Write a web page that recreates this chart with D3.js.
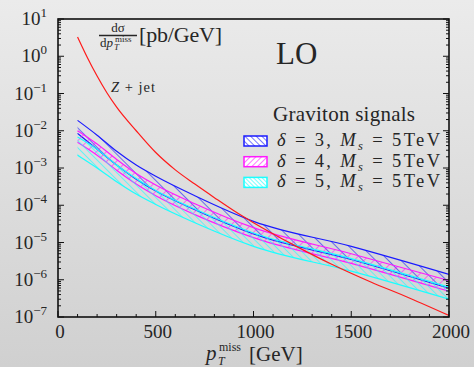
<!DOCTYPE html>
<html>
<head>
<meta charset="utf-8">
<script src="https://cdn.jsdelivr.net/npm/d3@7"></script>
<style>
  body { margin: 0; padding: 0; }
  svg { display: block; }
  text { font-family: "Liberation Serif", "DejaVu Serif", serif; fill: #262626; }
</style>
</head>
<body>
<div class="chart"></div>
<script>

// Z + jet background
var zjetX = [100, 150, 200, 250, 300, 400, 500, 600, 700, 800, 900, 1000, 1200, 1400, 1600, 1800, 2000]
var zjetY = [3.3, 0.93, 0.295, 0.105, 0.043, 0.010, 2.6e-3, 8.9e-4, 3.7e-4, 1.6e-4, 7.1e-5, 3.4e-5, 8.9e-6, 2.6e-6, 8.7e-7, 3.2e-7, 1.1e-7]

// graviton signal bands (upper / lower edge)
var sigX = [100, 200, 300, 400, 500, 700, 1000, 1500, 2000]
var d3Upper = [1.9e-2, 7.6e-3, 2.8e-3, 1.2e-3, 6.0e-4, 1.8e-4, 3.7e-5, 7.9e-6, 1.4e-6]
var d3Lower = [8.5e-3, 3.2e-3, 1.2e-3, 5.0e-4, 2.4e-4, 7.6e-5, 1.7e-5, 3.5e-6, 5.9e-7]
var d4Upper = [1.0e-2, 4.4e-3, 1.7e-3, 7.1e-4, 3.5e-4, 1.1e-4, 2.5e-5, 5.0e-6, 9.5e-7]
var d4Lower = [4.9e-3, 2.2e-3, 8.7e-4, 3.7e-4, 1.8e-4, 5.6e-5, 1.35e-5, 2.75e-6, 4.9e-7]
var d5Upper = [6.8e-3, 3.2e-3, 1.2e-3, 5.2e-4, 2.5e-4, 7.9e-5, 1.8e-5, 3.7e-6, 6.3e-7]
var d5Lower = [2.2e-3, 1.0e-3, 4.3e-4, 2.0e-4, 1.05e-4, 3.4e-5, 7.9e-6, 1.7e-6, 3.0e-7]

var deltas = ["3", "4", "5"]
var bandColors = ["#1a1aff", "#ff1aff", "#1affff"]

var xTicks = [0, 500, 1000, 1500, 2000]
var yExponents = [1, 0, -1, -2, -3, -4, -5, -6, -7]

const W = 474, H = 367
const margin = ({top: 19, right: 25, bottom: 50, left: 58})
const width = W - margin.left - margin.right
const height = H - margin.top - margin.bottom

var svg = d3.select('.chart')
    .append("svg")
    .attr("width", W)
    .attr("height", H)

var defs = svg.append("defs")

var grad = defs.append("linearGradient")
    .attr("id", "bg")
    .attr("x1", 0).attr("y1", 0)
    .attr("x2", 0).attr("y2", 1)
grad.append("stop").attr("offset", "0%").attr("stop-color", "#ebebeb")
grad.append("stop").attr("offset", "100%").attr("stop-color", "#d0d0d0")

svg.append("rect")
    .attr("width", W)
    .attr("height", H)
    .attr("fill", "url(#bg)")

// hatch patterns
function hatch(id, color, spacing, angle) {
    var p = defs.append("pattern")
        .attr("id", id)
        .attr("patternUnits", "userSpaceOnUse")
        .attr("width", spacing)
        .attr("height", spacing)
        .attr("patternTransform", `rotate(${angle})`)
    p.append("line")
        .attr("x1", 0).attr("y1", 0)
        .attr("x2", 0).attr("y2", spacing)
        .attr("stroke", color)
        .attr("stroke-width", 1.2)
}
hatch("h3", bandColors[0], 9, -45)
hatch("h4", bandColors[1], 7, 45)
hatch("h5", bandColors[2], 5, -45)
hatch("l3", bandColors[0], 4, -45)
hatch("l4", bandColors[1], 4, 45)
hatch("l5", bandColors[2], 3, -45)

defs.append("clipPath")
    .attr("id", "plotclip")
    .append("rect")
    .attr("x", margin.left)
    .attr("y", margin.top)
    .attr("width", width)
    .attr("height", height)

var x = d3.scaleLinear()
    .domain([0, 2000])
    .range([margin.left, margin.left + width])

var y = d3.scaleLog()
    .domain([1e-7, 1e1])
    .range([margin.top + height, margin.top])

var plot = svg.append("g").attr("clip-path", "url(#plotclip)")

// signal bands
var bands = [
    {upper: d3Upper, lower: d3Lower},
    {upper: d4Upper, lower: d4Lower},
    {upper: d5Upper, lower: d5Lower}
]

var area = d3.area()
    .curve(d3.curveMonotoneX)
    .x(d => x(d.x))
    .y0(d => y(d.lo))
    .y1(d => y(d.hi))

var line = d3.line()
    .curve(d3.curveMonotoneX)
    .x(d => x(d.x))
    .y(d => y(d.v))

bands.forEach(function(b, i) {
    var pts = sigX.map((v, j) => ({x: v, hi: b.upper[j], lo: b.lower[j]}))
    plot.append("path")
        .datum(pts)
        .attr("fill", `url(#h${deltas[i]})`)
        .attr("d", area)
    plot.append("path")
        .datum(pts.map(d => ({x: d.x, v: d.hi})))
        .attr("fill", "none")
        .attr("stroke", bandColors[i])
        .attr("stroke-width", 1.2)
        .attr("d", line)
    plot.append("path")
        .datum(pts.map(d => ({x: d.x, v: d.lo})))
        .attr("fill", "none")
        .attr("stroke", bandColors[i])
        .attr("stroke-width", 1.2)
        .attr("d", line)
})

// Z + jet
plot.append("path")
    .datum(zjetX.map((v, j) => ({x: v, v: zjetY[j]})))
    .attr("fill", "none")
    .attr("stroke", "#ff1a1a")
    .attr("stroke-width", 1.2)
    .attr("d", line)

// axes frame and ticks
var axes = svg.append("g")

var xMinor = d3.range(0, 2001, 100)
axes.selectAll(".xtick")
    .data(xMinor)
    .join("line")
    .attr("x1", d => x(d))
    .attr("x2", d => x(d))
    .attr("y1", margin.top + height)
    .attr("y2", d => margin.top + height - (d % 500 == 0 ? 6 : 3))
    .attr("stroke", "#111")
    .attr("stroke-width", 1)

var yMinor = []
yExponents.slice(1).forEach(function(e) {
    for (var k = 1; k < 10; k++) yMinor.push(k * Math.pow(10, e))
})
yMinor.push(10)

;[margin.left, margin.left + width].forEach(function(x0, side) {
    var dir = side == 0 ? 1 : -1
    axes.append("g")
        .selectAll("line")
        .data(yMinor)
        .join("line")
        .attr("x1", x0)
        .attr("x2", d => {
            var major = Math.abs(Math.log10(d) - Math.round(Math.log10(d))) < 1e-9
            return x0 + dir * (major ? 6 : 3)
        })
        .attr("y1", d => y(d))
        .attr("y2", d => y(d))
        .attr("stroke", "#111")
        .attr("stroke-width", 1)
})

axes.append("rect")
    .attr("x", margin.left)
    .attr("y", margin.top)
    .attr("width", width)
    .attr("height", height)
    .attr("fill", "none")
    .attr("stroke", "#111")
    .attr("stroke-width", 1.6)

// tick labels
svg.append("g")
    .selectAll("text")
    .data(xTicks)
    .join("text")
    .attr("x", d => x(d) + 2)
    .attr("y", margin.top + height + 21)
    .attr("text-anchor", "middle")
    .attr("font-size", 19)
    .text(d => d)

var ylab = svg.append("g")
    .selectAll("text")
    .data(yExponents)
    .join("text")
    .attr("x", 47)
    .attr("y", d => y(Math.pow(10, d)) + 6)
    .attr("text-anchor", "end")
    .attr("font-size", 19)
ylab.append("tspan").text("10")
ylab.append("tspan")
    .attr("dy", -8)
    .attr("font-size", 13)
    .text(d => d < 0 ? "\u2212" + (-d) : d)

// x axis title
svg.append("text").attr("x", 206).attr("y", 360).attr("font-size", 21)
    .attr("font-style", "italic").text("p")
svg.append("text").attr("x", 218).attr("y", 365).attr("font-size", 12)
    .attr("font-style", "italic").text("T")
svg.append("text").attr("x", 219).attr("y", 351).attr("font-size", 12)
    .text("miss")
svg.append("text").attr("x", 249).attr("y", 361).attr("font-size", 21)
    .text("[GeV]")

// y axis title: dσ / dp_T^miss [pb/GeV]
svg.append("text").attr("x", 118).attr("y", 32).attr("font-size", 13)
    .attr("text-anchor", "middle").text("d\u03c3")
svg.append("line")
    .attr("x1", 99).attr("x2", 137)
    .attr("y1", 35.5).attr("y2", 35.5)
    .attr("stroke", "#262626").attr("stroke-width", 1.3)
var den = svg.append("text").attr("x", 100).attr("y", 47).attr("font-size", 13)
den.append("tspan").text("d")
den.append("tspan").attr("font-style", "italic").text("p")
svg.append("text").attr("x", 114).attr("y", 50).attr("font-size", 9)
    .attr("font-style", "italic").text("T")
svg.append("text").attr("x", 115).attr("y", 41.5).attr("font-size", 9)
    .text("miss")
svg.append("text").attr("x", 139).attr("y", 42).attr("font-size", 22)
    .attr("textLength", 83)
    .text("[pb/GeV]")

// LO
svg.append("text").attr("x", 276).attr("y", 64).attr("font-size", 31)
    .text("LO")

// Z + jet
var zl = svg.append("text").attr("x", 111).attr("y", 92).attr("font-size", 14.5)
    .attr("textLength", 44)
zl.append("tspan").attr("font-style", "italic").text("Z")
zl.append("tspan").text(" + jet")

// legend
svg.append("text").attr("x", 273).attr("y", 121).attr("font-size", 21)
    .attr("textLength", 142)
    .text("Graviton signals")

var leg = svg.append("g")
    .selectAll("g")
    .data(deltas)
    .join("g")
    .attr("transform", (d, i) => `translate(244, ${136 + i * 20.7})`)

leg.append("rect")
    .attr("width", 23)
    .attr("height", 10)
    .attr("fill", "white")
leg.append("rect")
    .attr("width", 23)
    .attr("height", 10)
    .attr("fill", d => `url(#l${d})`)
    .attr("stroke", (d, i) => bandColors[i])
    .attr("stroke-width", 1.5)

var lt = leg.append("text")
    .attr("x", 33)
    .attr("y", 10)
    .attr("font-size", 18.5)
    .attr("textLength", 163)
    .attr("lengthAdjust", "spacing")
lt.append("tspan").attr("font-style", "italic").text("\u03b4")
lt.append("tspan").text(d => ` = ${d}, `)
lt.append("tspan").attr("font-style", "italic").text("M")
lt.append("tspan").attr("font-style", "italic").attr("font-size", 12.5).attr("dy", 4).text("s")
lt.append("tspan").attr("dy", -4).text(" = 5TeV")

</script>
</body>
</html>
